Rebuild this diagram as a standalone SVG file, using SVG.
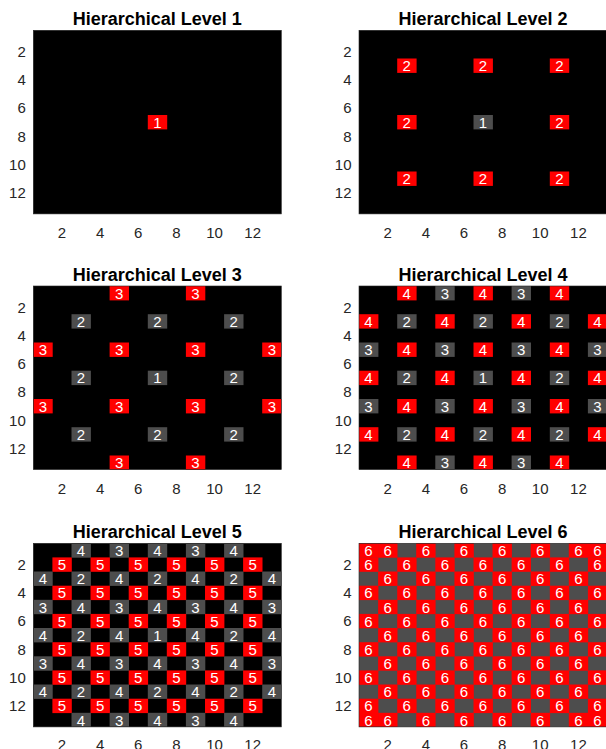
<svg xmlns="http://www.w3.org/2000/svg" width="606" height="749" viewBox="0 0 606 749">
<style>
.bg{fill:#000}
.gb{fill:#4d4d4d}
.r{fill:#ff0000}
.g{fill:#4d4d4d}
.t{font-family:"Liberation Sans",Arial,Helvetica,sans-serif;font-size:15px;fill:#fff;text-anchor:middle}
.title{font-family:"Liberation Sans",Arial,Helvetica,sans-serif;font-size:18px;font-weight:bold;fill:#000;text-anchor:middle}
.tk{font-family:"Liberation Sans",Arial,Helvetica,sans-serif;font-size:15px;fill:#262626}
.tx{text-anchor:middle}
.ty{text-anchor:end}
.box{fill:none;stroke:#262626;stroke-width:0.6}
</style>

<!-- Plot 1 -->
<g id="level1" transform="translate(33.3,30.3)">
<text class="title" x="124" y="-5.3">Hierarchical Level 1</text>
<rect class="bg" width="248" height="183.6"/>
<g transform="translate(0,84.7)"><rect class="r" x="114.5" width="19.4" height="14.4"/><text class="t" x="124" y="12.7">1</text></g>
<rect class="box" width="248" height="183.6"/>
<g class="tx tk"><text x="28.6" y="207.6">2</text><text x="66.8" y="207.6">4</text><text x="104.9" y="207.6">6</text><text x="143.1" y="207.6">8</text><text x="181.2" y="207.6">10</text><text x="219.4" y="207.6">12</text></g>
<g class="ty tk"><text x="-7.5" y="26.6">2</text><text x="-7.5" y="54.8">4</text><text x="-7.5" y="83.1">6</text><text x="-7.5" y="111.3">8</text><text x="-7.5" y="139.6">10</text><text x="-7.5" y="167.8">12</text></g>
</g>

<!-- Plot 2 -->
<g id="level2" transform="translate(359,30.3)">
<text class="title" x="124" y="-5.3">Hierarchical Level 2</text>
<rect class="bg" width="248" height="183.6"/>
<g transform="translate(0,28.2)">
<rect class="r" x="38.2" width="19.4" height="14.4"/><text class="t" x="47.7" y="12.7">2</text>
<rect class="r" x="114.5" width="19.4" height="14.4"/><text class="t" x="124" y="12.7">2</text>
<rect class="r" x="190.8" width="19.4" height="14.4"/><text class="t" x="200.3" y="12.7">2</text>
</g>
<g transform="translate(0,84.7)">
<rect class="r" x="38.2" width="19.4" height="14.4"/><text class="t" x="47.7" y="12.7">2</text>
<rect class="g" x="114.5" width="19.4" height="14.4"/><text class="t" x="124" y="12.7">1</text>
<rect class="r" x="190.8" width="19.4" height="14.4"/><text class="t" x="200.3" y="12.7">2</text>
</g>
<g transform="translate(0,141.2)">
<rect class="r" x="38.2" width="19.4" height="14.4"/><text class="t" x="47.7" y="12.7">2</text>
<rect class="r" x="114.5" width="19.4" height="14.4"/><text class="t" x="124" y="12.7">2</text>
<rect class="r" x="190.8" width="19.4" height="14.4"/><text class="t" x="200.3" y="12.7">2</text>
</g>
<rect class="box" width="248" height="183.6"/>
<g class="tx tk"><text x="28.6" y="207.6">2</text><text x="66.8" y="207.6">4</text><text x="104.9" y="207.6">6</text><text x="143.1" y="207.6">8</text><text x="181.2" y="207.6">10</text><text x="219.4" y="207.6">12</text></g>
<g class="ty tk"><text x="-7.5" y="26.6">2</text><text x="-7.5" y="54.8">4</text><text x="-7.5" y="83.1">6</text><text x="-7.5" y="111.3">8</text><text x="-7.5" y="139.6">10</text><text x="-7.5" y="167.8">12</text></g>
</g>

<!-- Plot 3 -->
<g id="level3" transform="translate(33.3,286)">
<text class="title" x="124" y="-5.3">Hierarchical Level 3</text>
<rect class="bg" width="248" height="183.6"/>
<g transform="translate(0,0)">
<rect class="r" x="76.3" width="19.4" height="14.4"/><text class="t" x="85.8" y="12.7">3</text>
<rect class="r" x="152.6" width="19.4" height="14.4"/><text class="t" x="162.2" y="12.7">3</text>
</g>
<g transform="translate(0,28.2)">
<rect class="g" x="38.2" width="19.4" height="14.4"/><text class="t" x="47.7" y="12.7">2</text>
<rect class="g" x="114.5" width="19.4" height="14.4"/><text class="t" x="124" y="12.7">2</text>
<rect class="g" x="190.8" width="19.4" height="14.4"/><text class="t" x="200.3" y="12.7">2</text>
</g>
<g transform="translate(0,56.5)">
<rect class="r" x="0" width="19.4" height="14.4"/><text class="t" x="9.5" y="12.7">3</text>
<rect class="r" x="76.3" width="19.4" height="14.4"/><text class="t" x="85.8" y="12.7">3</text>
<rect class="r" x="152.6" width="19.4" height="14.4"/><text class="t" x="162.2" y="12.7">3</text>
<rect class="r" x="228.9" width="19.1" height="14.4"/><text class="t" x="238.5" y="12.7">3</text>
</g>
<g transform="translate(0,84.7)">
<rect class="g" x="38.2" width="19.4" height="14.4"/><text class="t" x="47.7" y="12.7">2</text>
<rect class="g" x="114.5" width="19.4" height="14.4"/><text class="t" x="124" y="12.7">1</text>
<rect class="g" x="190.8" width="19.4" height="14.4"/><text class="t" x="200.3" y="12.7">2</text>
</g>
<g transform="translate(0,113)">
<rect class="r" x="0" width="19.4" height="14.4"/><text class="t" x="9.5" y="12.7">3</text>
<rect class="r" x="76.3" width="19.4" height="14.4"/><text class="t" x="85.8" y="12.7">3</text>
<rect class="r" x="152.6" width="19.4" height="14.4"/><text class="t" x="162.2" y="12.7">3</text>
<rect class="r" x="228.9" width="19.1" height="14.4"/><text class="t" x="238.5" y="12.7">3</text>
</g>
<g transform="translate(0,141.2)">
<rect class="g" x="38.2" width="19.4" height="14.4"/><text class="t" x="47.7" y="12.7">2</text>
<rect class="g" x="114.5" width="19.4" height="14.4"/><text class="t" x="124" y="12.7">2</text>
<rect class="g" x="190.8" width="19.4" height="14.4"/><text class="t" x="200.3" y="12.7">2</text>
</g>
<g transform="translate(0,169.5)">
<rect class="r" x="76.3" width="19.4" height="14.1"/><text class="t" x="85.8" y="12.7">3</text>
<rect class="r" x="152.6" width="19.4" height="14.1"/><text class="t" x="162.2" y="12.7">3</text>
</g>
<rect class="box" width="248" height="183.6"/>
<g class="tx tk"><text x="28.6" y="207.6">2</text><text x="66.8" y="207.6">4</text><text x="104.9" y="207.6">6</text><text x="143.1" y="207.6">8</text><text x="181.2" y="207.6">10</text><text x="219.4" y="207.6">12</text></g>
<g class="ty tk"><text x="-7.5" y="26.6">2</text><text x="-7.5" y="54.8">4</text><text x="-7.5" y="83.1">6</text><text x="-7.5" y="111.3">8</text><text x="-7.5" y="139.6">10</text><text x="-7.5" y="167.8">12</text></g>
</g>

<!-- Plot 4 -->
<g id="level4" transform="translate(359,286)">
<text class="title" x="124" y="-5.3">Hierarchical Level 4</text>
<rect class="bg" width="248" height="183.6"/>
<g transform="translate(0,0)">
<rect class="r" x="38.2" width="19.4" height="14.4"/><text class="t" x="47.7" y="12.7">4</text>
<rect class="g" x="76.3" width="19.4" height="14.4"/><text class="t" x="85.8" y="12.7">3</text>
<rect class="r" x="114.5" width="19.4" height="14.4"/><text class="t" x="124" y="12.7">4</text>
<rect class="g" x="152.6" width="19.4" height="14.4"/><text class="t" x="162.2" y="12.7">3</text>
<rect class="r" x="190.8" width="19.4" height="14.4"/><text class="t" x="200.3" y="12.7">4</text>
</g>
<g transform="translate(0,28.2)">
<rect class="r" x="0" width="19.4" height="14.4"/><text class="t" x="9.5" y="12.7">4</text>
<rect class="g" x="38.2" width="19.4" height="14.4"/><text class="t" x="47.7" y="12.7">2</text>
<rect class="r" x="76.3" width="19.4" height="14.4"/><text class="t" x="85.8" y="12.7">4</text>
<rect class="g" x="114.5" width="19.4" height="14.4"/><text class="t" x="124" y="12.7">2</text>
<rect class="r" x="152.6" width="19.4" height="14.4"/><text class="t" x="162.2" y="12.7">4</text>
<rect class="g" x="190.8" width="19.4" height="14.4"/><text class="t" x="200.3" y="12.7">2</text>
<rect class="r" x="228.9" width="19.1" height="14.4"/><text class="t" x="238.5" y="12.7">4</text>
</g>
<g transform="translate(0,56.5)">
<rect class="g" x="0" width="19.4" height="14.4"/><text class="t" x="9.5" y="12.7">3</text>
<rect class="r" x="38.2" width="19.4" height="14.4"/><text class="t" x="47.7" y="12.7">4</text>
<rect class="g" x="76.3" width="19.4" height="14.4"/><text class="t" x="85.8" y="12.7">3</text>
<rect class="r" x="114.5" width="19.4" height="14.4"/><text class="t" x="124" y="12.7">4</text>
<rect class="g" x="152.6" width="19.4" height="14.4"/><text class="t" x="162.2" y="12.7">3</text>
<rect class="r" x="190.8" width="19.4" height="14.4"/><text class="t" x="200.3" y="12.7">4</text>
<rect class="g" x="228.9" width="19.1" height="14.4"/><text class="t" x="238.5" y="12.7">3</text>
</g>
<g transform="translate(0,84.7)">
<rect class="r" x="0" width="19.4" height="14.4"/><text class="t" x="9.5" y="12.7">4</text>
<rect class="g" x="38.2" width="19.4" height="14.4"/><text class="t" x="47.7" y="12.7">2</text>
<rect class="r" x="76.3" width="19.4" height="14.4"/><text class="t" x="85.8" y="12.7">4</text>
<rect class="g" x="114.5" width="19.4" height="14.4"/><text class="t" x="124" y="12.7">1</text>
<rect class="r" x="152.6" width="19.4" height="14.4"/><text class="t" x="162.2" y="12.7">4</text>
<rect class="g" x="190.8" width="19.4" height="14.4"/><text class="t" x="200.3" y="12.7">2</text>
<rect class="r" x="228.9" width="19.1" height="14.4"/><text class="t" x="238.5" y="12.7">4</text>
</g>
<g transform="translate(0,113)">
<rect class="g" x="0" width="19.4" height="14.4"/><text class="t" x="9.5" y="12.7">3</text>
<rect class="r" x="38.2" width="19.4" height="14.4"/><text class="t" x="47.7" y="12.7">4</text>
<rect class="g" x="76.3" width="19.4" height="14.4"/><text class="t" x="85.8" y="12.7">3</text>
<rect class="r" x="114.5" width="19.4" height="14.4"/><text class="t" x="124" y="12.7">4</text>
<rect class="g" x="152.6" width="19.4" height="14.4"/><text class="t" x="162.2" y="12.7">3</text>
<rect class="r" x="190.8" width="19.4" height="14.4"/><text class="t" x="200.3" y="12.7">4</text>
<rect class="g" x="228.9" width="19.1" height="14.4"/><text class="t" x="238.5" y="12.7">3</text>
</g>
<g transform="translate(0,141.2)">
<rect class="r" x="0" width="19.4" height="14.4"/><text class="t" x="9.5" y="12.7">4</text>
<rect class="g" x="38.2" width="19.4" height="14.4"/><text class="t" x="47.7" y="12.7">2</text>
<rect class="r" x="76.3" width="19.4" height="14.4"/><text class="t" x="85.8" y="12.7">4</text>
<rect class="g" x="114.5" width="19.4" height="14.4"/><text class="t" x="124" y="12.7">2</text>
<rect class="r" x="152.6" width="19.4" height="14.4"/><text class="t" x="162.2" y="12.7">4</text>
<rect class="g" x="190.8" width="19.4" height="14.4"/><text class="t" x="200.3" y="12.7">2</text>
<rect class="r" x="228.9" width="19.1" height="14.4"/><text class="t" x="238.5" y="12.7">4</text>
</g>
<g transform="translate(0,169.5)">
<rect class="r" x="38.2" width="19.4" height="14.1"/><text class="t" x="47.7" y="12.7">4</text>
<rect class="g" x="76.3" width="19.4" height="14.1"/><text class="t" x="85.8" y="12.7">3</text>
<rect class="r" x="114.5" width="19.4" height="14.1"/><text class="t" x="124" y="12.7">4</text>
<rect class="g" x="152.6" width="19.4" height="14.1"/><text class="t" x="162.2" y="12.7">3</text>
<rect class="r" x="190.8" width="19.4" height="14.1"/><text class="t" x="200.3" y="12.7">4</text>
</g>
<rect class="box" width="248" height="183.6"/>
<g class="tx tk"><text x="28.6" y="207.6">2</text><text x="66.8" y="207.6">4</text><text x="104.9" y="207.6">6</text><text x="143.1" y="207.6">8</text><text x="181.2" y="207.6">10</text><text x="219.4" y="207.6">12</text></g>
<g class="ty tk"><text x="-7.5" y="26.6">2</text><text x="-7.5" y="54.8">4</text><text x="-7.5" y="83.1">6</text><text x="-7.5" y="111.3">8</text><text x="-7.5" y="139.6">10</text><text x="-7.5" y="167.8">12</text></g>
</g>

<!-- Plot 5 -->
<g id="level5" transform="translate(33.3,543.3)">
<text class="title" x="124" y="-5.3">Hierarchical Level 5</text>
<rect class="bg" width="248" height="183.6"/>
<g transform="translate(0,0)">
<rect class="g" x="38.2" width="19.4" height="14.4"/><text class="t" x="47.7" y="12.7">4</text>
<rect class="g" x="76.3" width="19.4" height="14.4"/><text class="t" x="85.8" y="12.7">3</text>
<rect class="g" x="114.5" width="19.4" height="14.4"/><text class="t" x="124" y="12.7">4</text>
<rect class="g" x="152.6" width="19.4" height="14.4"/><text class="t" x="162.2" y="12.7">3</text>
<rect class="g" x="190.8" width="19.4" height="14.4"/><text class="t" x="200.3" y="12.7">4</text>
</g>
<g transform="translate(0,14.1)">
<rect class="r" x="19.1" width="19.4" height="14.4"/><text class="t" x="28.6" y="12.7">5</text>
<rect class="r" x="57.2" width="19.4" height="14.4"/><text class="t" x="66.8" y="12.7">5</text>
<rect class="r" x="95.4" width="19.4" height="14.4"/><text class="t" x="104.9" y="12.7">5</text>
<rect class="r" x="133.5" width="19.4" height="14.4"/><text class="t" x="143.1" y="12.7">5</text>
<rect class="r" x="171.7" width="19.4" height="14.4"/><text class="t" x="181.2" y="12.7">5</text>
<rect class="r" x="209.8" width="19.4" height="14.4"/><text class="t" x="219.4" y="12.7">5</text>
</g>
<g transform="translate(0,28.2)">
<rect class="g" x="0" width="19.4" height="14.4"/><text class="t" x="9.5" y="12.7">4</text>
<rect class="g" x="38.2" width="19.4" height="14.4"/><text class="t" x="47.7" y="12.7">2</text>
<rect class="g" x="76.3" width="19.4" height="14.4"/><text class="t" x="85.8" y="12.7">4</text>
<rect class="g" x="114.5" width="19.4" height="14.4"/><text class="t" x="124" y="12.7">2</text>
<rect class="g" x="152.6" width="19.4" height="14.4"/><text class="t" x="162.2" y="12.7">4</text>
<rect class="g" x="190.8" width="19.4" height="14.4"/><text class="t" x="200.3" y="12.7">2</text>
<rect class="g" x="228.9" width="19.1" height="14.4"/><text class="t" x="238.5" y="12.7">4</text>
</g>
<g transform="translate(0,42.4)">
<rect class="r" x="19.1" width="19.4" height="14.4"/><text class="t" x="28.6" y="12.7">5</text>
<rect class="r" x="57.2" width="19.4" height="14.4"/><text class="t" x="66.8" y="12.7">5</text>
<rect class="r" x="95.4" width="19.4" height="14.4"/><text class="t" x="104.9" y="12.7">5</text>
<rect class="r" x="133.5" width="19.4" height="14.4"/><text class="t" x="143.1" y="12.7">5</text>
<rect class="r" x="171.7" width="19.4" height="14.4"/><text class="t" x="181.2" y="12.7">5</text>
<rect class="r" x="209.8" width="19.4" height="14.4"/><text class="t" x="219.4" y="12.7">5</text>
</g>
<g transform="translate(0,56.5)">
<rect class="g" x="0" width="19.4" height="14.4"/><text class="t" x="9.5" y="12.7">3</text>
<rect class="g" x="38.2" width="19.4" height="14.4"/><text class="t" x="47.7" y="12.7">4</text>
<rect class="g" x="76.3" width="19.4" height="14.4"/><text class="t" x="85.8" y="12.7">3</text>
<rect class="g" x="114.5" width="19.4" height="14.4"/><text class="t" x="124" y="12.7">4</text>
<rect class="g" x="152.6" width="19.4" height="14.4"/><text class="t" x="162.2" y="12.7">3</text>
<rect class="g" x="190.8" width="19.4" height="14.4"/><text class="t" x="200.3" y="12.7">4</text>
<rect class="g" x="228.9" width="19.1" height="14.4"/><text class="t" x="238.5" y="12.7">3</text>
</g>
<g transform="translate(0,70.6)">
<rect class="r" x="19.1" width="19.4" height="14.4"/><text class="t" x="28.6" y="12.7">5</text>
<rect class="r" x="57.2" width="19.4" height="14.4"/><text class="t" x="66.8" y="12.7">5</text>
<rect class="r" x="95.4" width="19.4" height="14.4"/><text class="t" x="104.9" y="12.7">5</text>
<rect class="r" x="133.5" width="19.4" height="14.4"/><text class="t" x="143.1" y="12.7">5</text>
<rect class="r" x="171.7" width="19.4" height="14.4"/><text class="t" x="181.2" y="12.7">5</text>
<rect class="r" x="209.8" width="19.4" height="14.4"/><text class="t" x="219.4" y="12.7">5</text>
</g>
<g transform="translate(0,84.7)">
<rect class="g" x="0" width="19.4" height="14.4"/><text class="t" x="9.5" y="12.7">4</text>
<rect class="g" x="38.2" width="19.4" height="14.4"/><text class="t" x="47.7" y="12.7">2</text>
<rect class="g" x="76.3" width="19.4" height="14.4"/><text class="t" x="85.8" y="12.7">4</text>
<rect class="g" x="114.5" width="19.4" height="14.4"/><text class="t" x="124" y="12.7">1</text>
<rect class="g" x="152.6" width="19.4" height="14.4"/><text class="t" x="162.2" y="12.7">4</text>
<rect class="g" x="190.8" width="19.4" height="14.4"/><text class="t" x="200.3" y="12.7">2</text>
<rect class="g" x="228.9" width="19.1" height="14.4"/><text class="t" x="238.5" y="12.7">4</text>
</g>
<g transform="translate(0,98.9)">
<rect class="r" x="19.1" width="19.4" height="14.4"/><text class="t" x="28.6" y="12.7">5</text>
<rect class="r" x="57.2" width="19.4" height="14.4"/><text class="t" x="66.8" y="12.7">5</text>
<rect class="r" x="95.4" width="19.4" height="14.4"/><text class="t" x="104.9" y="12.7">5</text>
<rect class="r" x="133.5" width="19.4" height="14.4"/><text class="t" x="143.1" y="12.7">5</text>
<rect class="r" x="171.7" width="19.4" height="14.4"/><text class="t" x="181.2" y="12.7">5</text>
<rect class="r" x="209.8" width="19.4" height="14.4"/><text class="t" x="219.4" y="12.7">5</text>
</g>
<g transform="translate(0,113)">
<rect class="g" x="0" width="19.4" height="14.4"/><text class="t" x="9.5" y="12.7">3</text>
<rect class="g" x="38.2" width="19.4" height="14.4"/><text class="t" x="47.7" y="12.7">4</text>
<rect class="g" x="76.3" width="19.4" height="14.4"/><text class="t" x="85.8" y="12.7">3</text>
<rect class="g" x="114.5" width="19.4" height="14.4"/><text class="t" x="124" y="12.7">4</text>
<rect class="g" x="152.6" width="19.4" height="14.4"/><text class="t" x="162.2" y="12.7">3</text>
<rect class="g" x="190.8" width="19.4" height="14.4"/><text class="t" x="200.3" y="12.7">4</text>
<rect class="g" x="228.9" width="19.1" height="14.4"/><text class="t" x="238.5" y="12.7">3</text>
</g>
<g transform="translate(0,127.1)">
<rect class="r" x="19.1" width="19.4" height="14.4"/><text class="t" x="28.6" y="12.7">5</text>
<rect class="r" x="57.2" width="19.4" height="14.4"/><text class="t" x="66.8" y="12.7">5</text>
<rect class="r" x="95.4" width="19.4" height="14.4"/><text class="t" x="104.9" y="12.7">5</text>
<rect class="r" x="133.5" width="19.4" height="14.4"/><text class="t" x="143.1" y="12.7">5</text>
<rect class="r" x="171.7" width="19.4" height="14.4"/><text class="t" x="181.2" y="12.7">5</text>
<rect class="r" x="209.8" width="19.4" height="14.4"/><text class="t" x="219.4" y="12.7">5</text>
</g>
<g transform="translate(0,141.2)">
<rect class="g" x="0" width="19.4" height="14.4"/><text class="t" x="9.5" y="12.7">4</text>
<rect class="g" x="38.2" width="19.4" height="14.4"/><text class="t" x="47.7" y="12.7">2</text>
<rect class="g" x="76.3" width="19.4" height="14.4"/><text class="t" x="85.8" y="12.7">4</text>
<rect class="g" x="114.5" width="19.4" height="14.4"/><text class="t" x="124" y="12.7">2</text>
<rect class="g" x="152.6" width="19.4" height="14.4"/><text class="t" x="162.2" y="12.7">4</text>
<rect class="g" x="190.8" width="19.4" height="14.4"/><text class="t" x="200.3" y="12.7">2</text>
<rect class="g" x="228.9" width="19.1" height="14.4"/><text class="t" x="238.5" y="12.7">4</text>
</g>
<g transform="translate(0,155.4)">
<rect class="r" x="19.1" width="19.4" height="14.4"/><text class="t" x="28.6" y="12.7">5</text>
<rect class="r" x="57.2" width="19.4" height="14.4"/><text class="t" x="66.8" y="12.7">5</text>
<rect class="r" x="95.4" width="19.4" height="14.4"/><text class="t" x="104.9" y="12.7">5</text>
<rect class="r" x="133.5" width="19.4" height="14.4"/><text class="t" x="143.1" y="12.7">5</text>
<rect class="r" x="171.7" width="19.4" height="14.4"/><text class="t" x="181.2" y="12.7">5</text>
<rect class="r" x="209.8" width="19.4" height="14.4"/><text class="t" x="219.4" y="12.7">5</text>
</g>
<g transform="translate(0,169.5)">
<rect class="g" x="38.2" width="19.4" height="14.1"/><text class="t" x="47.7" y="12.7">4</text>
<rect class="g" x="76.3" width="19.4" height="14.1"/><text class="t" x="85.8" y="12.7">3</text>
<rect class="g" x="114.5" width="19.4" height="14.1"/><text class="t" x="124" y="12.7">4</text>
<rect class="g" x="152.6" width="19.4" height="14.1"/><text class="t" x="162.2" y="12.7">3</text>
<rect class="g" x="190.8" width="19.4" height="14.1"/><text class="t" x="200.3" y="12.7">4</text>
</g>
<rect class="box" width="248" height="183.6"/>
<g class="tx tk"><text x="28.6" y="206.8">2</text><text x="66.8" y="206.8">4</text><text x="104.9" y="206.8">6</text><text x="143.1" y="206.8">8</text><text x="181.2" y="206.8">10</text><text x="219.4" y="206.8">12</text></g>
<g class="ty tk"><text x="-7.5" y="26.6">2</text><text x="-7.5" y="54.8">4</text><text x="-7.5" y="83.1">6</text><text x="-7.5" y="111.3">8</text><text x="-7.5" y="139.6">10</text><text x="-7.5" y="167.8">12</text></g>
</g>

<!-- Plot 6 -->
<g id="level6" transform="translate(359,543.3)">
<text class="title" x="124" y="-5.3">Hierarchical Level 6</text>
<rect class="gb" width="248" height="183.6"/>
<g transform="translate(0,0)">
<rect class="r" x="0" width="19.4" height="14.4"/><text class="t" x="9.5" y="12.7">6</text>
<rect class="r" x="19.1" width="19.4" height="14.4"/><text class="t" x="28.6" y="12.7">6</text>
<rect class="r" x="57.2" width="19.4" height="14.4"/><text class="t" x="66.8" y="12.7">6</text>
<rect class="r" x="95.4" width="19.4" height="14.4"/><text class="t" x="104.9" y="12.7">6</text>
<rect class="r" x="133.5" width="19.4" height="14.4"/><text class="t" x="143.1" y="12.7">6</text>
<rect class="r" x="171.7" width="19.4" height="14.4"/><text class="t" x="181.2" y="12.7">6</text>
<rect class="r" x="209.8" width="19.4" height="14.4"/><text class="t" x="219.4" y="12.7">6</text>
<rect class="r" x="228.9" width="19.1" height="14.4"/><text class="t" x="238.5" y="12.7">6</text>
</g>
<g transform="translate(0,14.1)">
<rect class="r" x="0" width="19.4" height="14.4"/><text class="t" x="9.5" y="12.7">6</text>
<rect class="r" x="38.2" width="19.4" height="14.4"/><text class="t" x="47.7" y="12.7">6</text>
<rect class="r" x="76.3" width="19.4" height="14.4"/><text class="t" x="85.8" y="12.7">6</text>
<rect class="r" x="114.5" width="19.4" height="14.4"/><text class="t" x="124" y="12.7">6</text>
<rect class="r" x="152.6" width="19.4" height="14.4"/><text class="t" x="162.2" y="12.7">6</text>
<rect class="r" x="190.8" width="19.4" height="14.4"/><text class="t" x="200.3" y="12.7">6</text>
<rect class="r" x="228.9" width="19.1" height="14.4"/><text class="t" x="238.5" y="12.7">6</text>
</g>
<g transform="translate(0,28.2)">
<rect class="r" x="19.1" width="19.4" height="14.4"/><text class="t" x="28.6" y="12.7">6</text>
<rect class="r" x="57.2" width="19.4" height="14.4"/><text class="t" x="66.8" y="12.7">6</text>
<rect class="r" x="95.4" width="19.4" height="14.4"/><text class="t" x="104.9" y="12.7">6</text>
<rect class="r" x="133.5" width="19.4" height="14.4"/><text class="t" x="143.1" y="12.7">6</text>
<rect class="r" x="171.7" width="19.4" height="14.4"/><text class="t" x="181.2" y="12.7">6</text>
<rect class="r" x="209.8" width="19.4" height="14.4"/><text class="t" x="219.4" y="12.7">6</text>
</g>
<g transform="translate(0,42.4)">
<rect class="r" x="0" width="19.4" height="14.4"/><text class="t" x="9.5" y="12.7">6</text>
<rect class="r" x="38.2" width="19.4" height="14.4"/><text class="t" x="47.7" y="12.7">6</text>
<rect class="r" x="76.3" width="19.4" height="14.4"/><text class="t" x="85.8" y="12.7">6</text>
<rect class="r" x="114.5" width="19.4" height="14.4"/><text class="t" x="124" y="12.7">6</text>
<rect class="r" x="152.6" width="19.4" height="14.4"/><text class="t" x="162.2" y="12.7">6</text>
<rect class="r" x="190.8" width="19.4" height="14.4"/><text class="t" x="200.3" y="12.7">6</text>
<rect class="r" x="228.9" width="19.1" height="14.4"/><text class="t" x="238.5" y="12.7">6</text>
</g>
<g transform="translate(0,56.5)">
<rect class="r" x="19.1" width="19.4" height="14.4"/><text class="t" x="28.6" y="12.7">6</text>
<rect class="r" x="57.2" width="19.4" height="14.4"/><text class="t" x="66.8" y="12.7">6</text>
<rect class="r" x="95.4" width="19.4" height="14.4"/><text class="t" x="104.9" y="12.7">6</text>
<rect class="r" x="133.5" width="19.4" height="14.4"/><text class="t" x="143.1" y="12.7">6</text>
<rect class="r" x="171.7" width="19.4" height="14.4"/><text class="t" x="181.2" y="12.7">6</text>
<rect class="r" x="209.8" width="19.4" height="14.4"/><text class="t" x="219.4" y="12.7">6</text>
</g>
<g transform="translate(0,70.6)">
<rect class="r" x="0" width="19.4" height="14.4"/><text class="t" x="9.5" y="12.7">6</text>
<rect class="r" x="38.2" width="19.4" height="14.4"/><text class="t" x="47.7" y="12.7">6</text>
<rect class="r" x="76.3" width="19.4" height="14.4"/><text class="t" x="85.8" y="12.7">6</text>
<rect class="r" x="114.5" width="19.4" height="14.4"/><text class="t" x="124" y="12.7">6</text>
<rect class="r" x="152.6" width="19.4" height="14.4"/><text class="t" x="162.2" y="12.7">6</text>
<rect class="r" x="190.8" width="19.4" height="14.4"/><text class="t" x="200.3" y="12.7">6</text>
<rect class="r" x="228.9" width="19.1" height="14.4"/><text class="t" x="238.5" y="12.7">6</text>
</g>
<g transform="translate(0,84.7)">
<rect class="r" x="19.1" width="19.4" height="14.4"/><text class="t" x="28.6" y="12.7">6</text>
<rect class="r" x="57.2" width="19.4" height="14.4"/><text class="t" x="66.8" y="12.7">6</text>
<rect class="r" x="95.4" width="19.4" height="14.4"/><text class="t" x="104.9" y="12.7">6</text>
<rect class="r" x="133.5" width="19.4" height="14.4"/><text class="t" x="143.1" y="12.7">6</text>
<rect class="r" x="171.7" width="19.4" height="14.4"/><text class="t" x="181.2" y="12.7">6</text>
<rect class="r" x="209.8" width="19.4" height="14.4"/><text class="t" x="219.4" y="12.7">6</text>
</g>
<g transform="translate(0,98.9)">
<rect class="r" x="0" width="19.4" height="14.4"/><text class="t" x="9.5" y="12.7">6</text>
<rect class="r" x="38.2" width="19.4" height="14.4"/><text class="t" x="47.7" y="12.7">6</text>
<rect class="r" x="76.3" width="19.4" height="14.4"/><text class="t" x="85.8" y="12.7">6</text>
<rect class="r" x="114.5" width="19.4" height="14.4"/><text class="t" x="124" y="12.7">6</text>
<rect class="r" x="152.6" width="19.4" height="14.4"/><text class="t" x="162.2" y="12.7">6</text>
<rect class="r" x="190.8" width="19.4" height="14.4"/><text class="t" x="200.3" y="12.7">6</text>
<rect class="r" x="228.9" width="19.1" height="14.4"/><text class="t" x="238.5" y="12.7">6</text>
</g>
<g transform="translate(0,113)">
<rect class="r" x="19.1" width="19.4" height="14.4"/><text class="t" x="28.6" y="12.7">6</text>
<rect class="r" x="57.2" width="19.4" height="14.4"/><text class="t" x="66.8" y="12.7">6</text>
<rect class="r" x="95.4" width="19.4" height="14.4"/><text class="t" x="104.9" y="12.7">6</text>
<rect class="r" x="133.5" width="19.4" height="14.4"/><text class="t" x="143.1" y="12.7">6</text>
<rect class="r" x="171.7" width="19.4" height="14.4"/><text class="t" x="181.2" y="12.7">6</text>
<rect class="r" x="209.8" width="19.4" height="14.4"/><text class="t" x="219.4" y="12.7">6</text>
</g>
<g transform="translate(0,127.1)">
<rect class="r" x="0" width="19.4" height="14.4"/><text class="t" x="9.5" y="12.7">6</text>
<rect class="r" x="38.2" width="19.4" height="14.4"/><text class="t" x="47.7" y="12.7">6</text>
<rect class="r" x="76.3" width="19.4" height="14.4"/><text class="t" x="85.8" y="12.7">6</text>
<rect class="r" x="114.5" width="19.4" height="14.4"/><text class="t" x="124" y="12.7">6</text>
<rect class="r" x="152.6" width="19.4" height="14.4"/><text class="t" x="162.2" y="12.7">6</text>
<rect class="r" x="190.8" width="19.4" height="14.4"/><text class="t" x="200.3" y="12.7">6</text>
<rect class="r" x="228.9" width="19.1" height="14.4"/><text class="t" x="238.5" y="12.7">6</text>
</g>
<g transform="translate(0,141.2)">
<rect class="r" x="19.1" width="19.4" height="14.4"/><text class="t" x="28.6" y="12.7">6</text>
<rect class="r" x="57.2" width="19.4" height="14.4"/><text class="t" x="66.8" y="12.7">6</text>
<rect class="r" x="95.4" width="19.4" height="14.4"/><text class="t" x="104.9" y="12.7">6</text>
<rect class="r" x="133.5" width="19.4" height="14.4"/><text class="t" x="143.1" y="12.7">6</text>
<rect class="r" x="171.7" width="19.4" height="14.4"/><text class="t" x="181.2" y="12.7">6</text>
<rect class="r" x="209.8" width="19.4" height="14.4"/><text class="t" x="219.4" y="12.7">6</text>
</g>
<g transform="translate(0,155.4)">
<rect class="r" x="0" width="19.4" height="14.4"/><text class="t" x="9.5" y="12.7">6</text>
<rect class="r" x="38.2" width="19.4" height="14.4"/><text class="t" x="47.7" y="12.7">6</text>
<rect class="r" x="76.3" width="19.4" height="14.4"/><text class="t" x="85.8" y="12.7">6</text>
<rect class="r" x="114.5" width="19.4" height="14.4"/><text class="t" x="124" y="12.7">6</text>
<rect class="r" x="152.6" width="19.4" height="14.4"/><text class="t" x="162.2" y="12.7">6</text>
<rect class="r" x="190.8" width="19.4" height="14.4"/><text class="t" x="200.3" y="12.7">6</text>
<rect class="r" x="228.9" width="19.1" height="14.4"/><text class="t" x="238.5" y="12.7">6</text>
</g>
<g transform="translate(0,169.5)">
<rect class="r" x="0" width="19.4" height="14.1"/><text class="t" x="9.5" y="12.7">6</text>
<rect class="r" x="19.1" width="19.4" height="14.1"/><text class="t" x="28.6" y="12.7">6</text>
<rect class="r" x="57.2" width="19.4" height="14.1"/><text class="t" x="66.8" y="12.7">6</text>
<rect class="r" x="95.4" width="19.4" height="14.1"/><text class="t" x="104.9" y="12.7">6</text>
<rect class="r" x="133.5" width="19.4" height="14.1"/><text class="t" x="143.1" y="12.7">6</text>
<rect class="r" x="171.7" width="19.4" height="14.1"/><text class="t" x="181.2" y="12.7">6</text>
<rect class="r" x="209.8" width="19.4" height="14.1"/><text class="t" x="219.4" y="12.7">6</text>
<rect class="r" x="228.9" width="19.1" height="14.1"/><text class="t" x="238.5" y="12.7">6</text>
</g>
<rect class="box" width="248" height="183.6"/>
<g class="tx tk"><text x="28.6" y="206.8">2</text><text x="66.8" y="206.8">4</text><text x="104.9" y="206.8">6</text><text x="143.1" y="206.8">8</text><text x="181.2" y="206.8">10</text><text x="219.4" y="206.8">12</text></g>
<g class="ty tk"><text x="-7.5" y="26.6">2</text><text x="-7.5" y="54.8">4</text><text x="-7.5" y="83.1">6</text><text x="-7.5" y="111.3">8</text><text x="-7.5" y="139.6">10</text><text x="-7.5" y="167.8">12</text></g>
</g>
</svg>
